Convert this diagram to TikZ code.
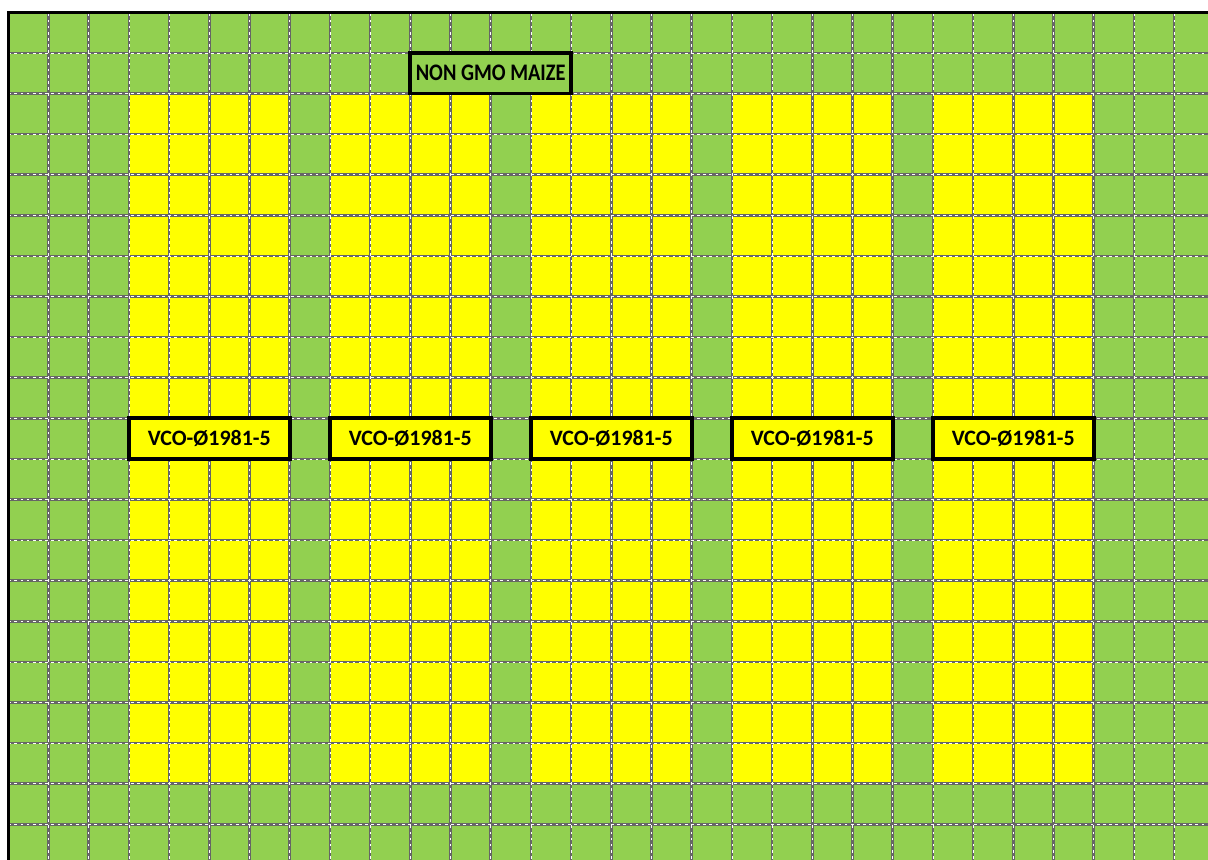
\documentclass[tikz,border=0pt]{standalone}
\usepackage{fontspec}
\setmainfont{Carlito}
\definecolor{fieldgreen}{HTML}{92D050}
\definecolor{plotyellow}{HTML}{FFFF00}

\begin{document}
\begin{tikzpicture}[x=.804cm,y=-.812cm,
    cellline/.style={gray!80!black,line width=1.5pt,xstep=.804cm,ystep=.812cm},
    plotlabel/.style={draw=black,line width=2.2pt,inner sep=0pt,
      minimum width=3.216cm,minimum height=.812cm,
      font=\bfseries\fontsize{12.5}{14}\selectfont}]
  \useasboundingbox (-.2065,-.303) rectangle (29.843,20.855);
  \fill[white] (-.2065,-.303) rectangle (29.843,20.855);
  \clip (-.2065,-.303) rectangle (29.843,20.855);
  \fill[fieldgreen] (0,0) rectangle (30,21);
  \fill[plotyellow] (3,2) rectangle (7,19);
  \fill[plotyellow] (8,2) rectangle (12,19);
  \fill[plotyellow] (13,2) rectangle (17,19);
  \fill[plotyellow] (18,2) rectangle (22,19);
  \fill[plotyellow] (23,2) rectangle (27,19);
  \draw[cellline] (0,0) grid (30,21);
  \draw[cellline,white,dotted,line width=.4pt] (0,0) grid (30,21);
  \draw[line width=1.4pt] (0,21) -- (0,0) -- (30,0);
  \node[plotlabel,fill=fieldgreen,font=\bfseries\fontsize{13.5}{16}\selectfont]
    (maize) at (12,1.5) {\scalebox{.86}[1]{NON GMO MAIZE}};
  \node[plotlabel,fill=plotyellow] (vco1) at (5,10.5) {VCO-Ø1981-5};
  \node[plotlabel,fill=plotyellow] (vco2) at (10,10.5) {VCO-Ø1981-5};
  \node[plotlabel,fill=plotyellow] (vco3) at (15,10.5) {VCO-Ø1981-5};
  \node[plotlabel,fill=plotyellow] (vco4) at (20,10.5) {VCO-Ø1981-5};
  \node[plotlabel,fill=plotyellow] (vco5) at (25,10.5) {VCO-Ø1981-5};
\end{tikzpicture}
\end{document}
